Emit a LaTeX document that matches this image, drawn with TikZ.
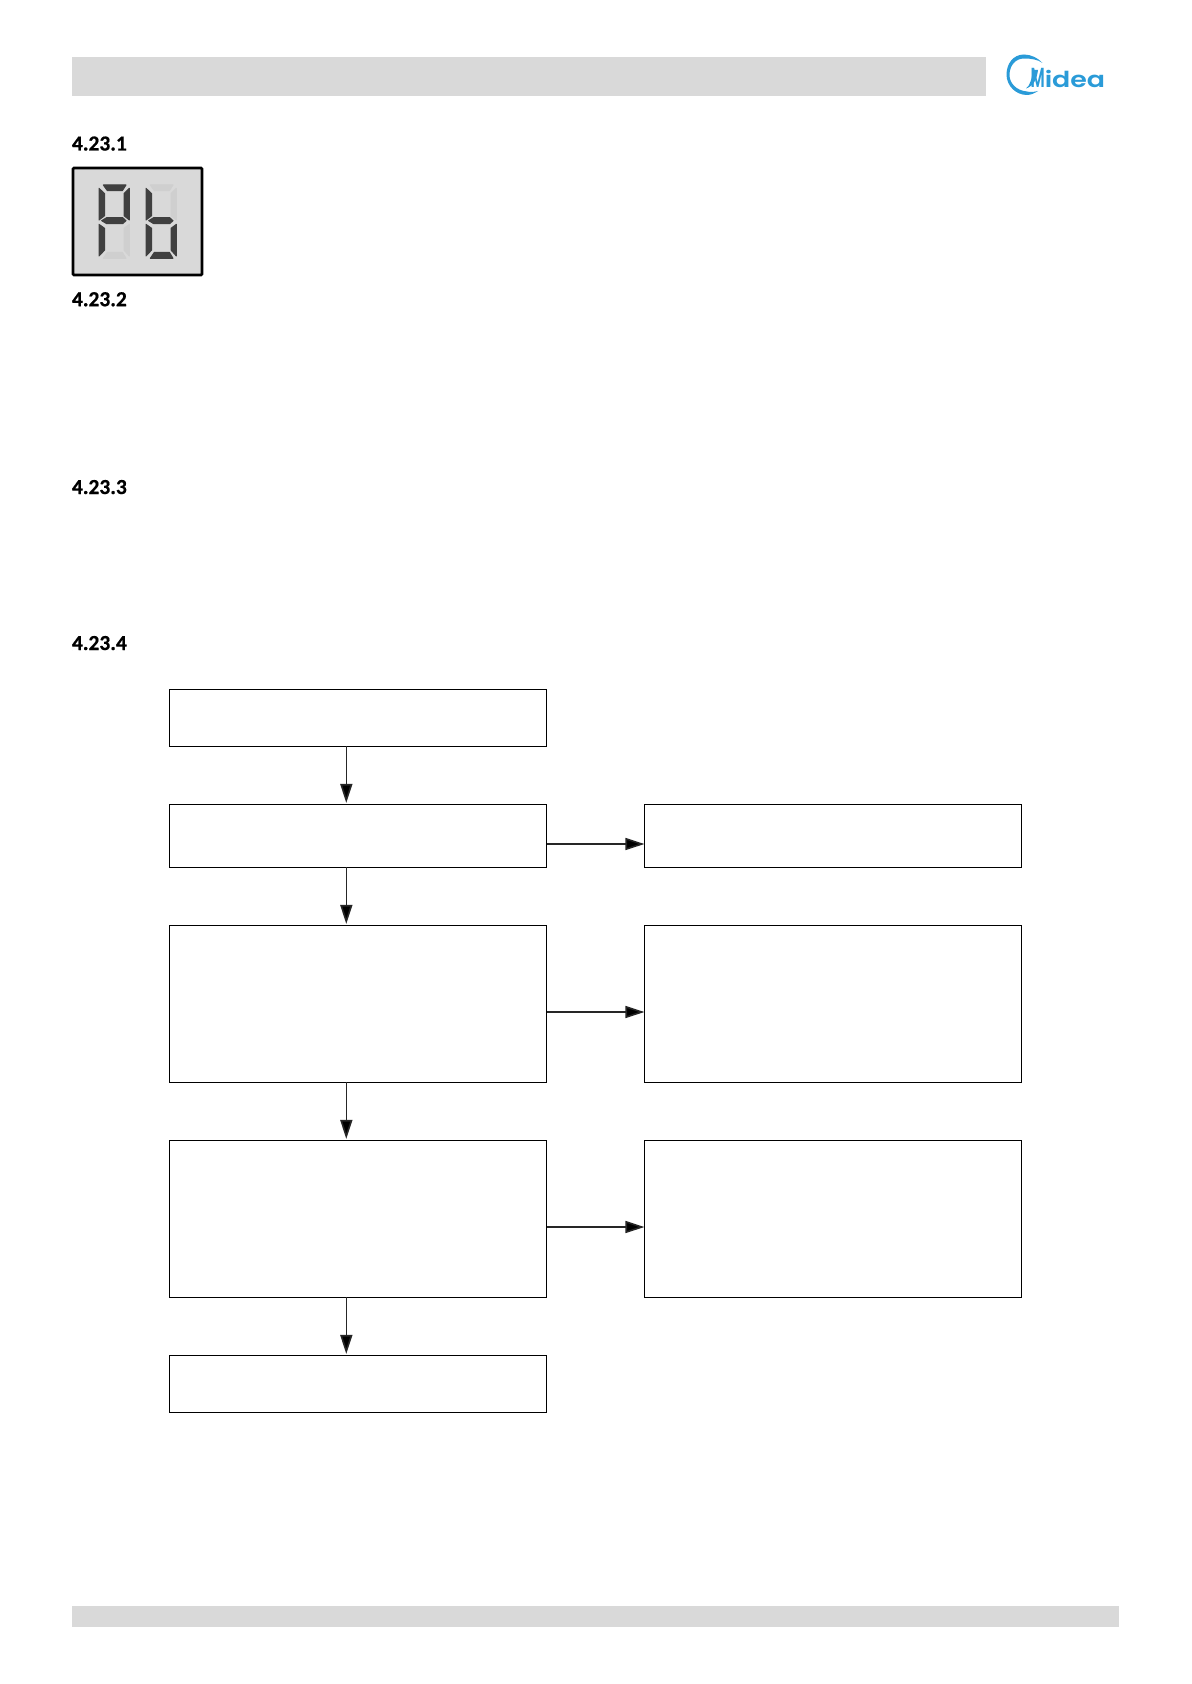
\documentclass[tikz,border=0pt]{standalone}
\usepackage{fontspec}
\usepackage{graphicx}
\setmainfont{Carlito}[BoldFeatures={FakeBold=0.6}]
\newfontfamily\logofont{Poppins}[UprightFont=* SemiBold]
\usetikzlibrary{arrows.meta}
\definecolor{bargrey}{HTML}{D9D9D9}
\definecolor{segon}{HTML}{404040}
\definecolor{segoff}{HTML}{CFCFCF}
\definecolor{midblue}{HTML}{2A9BD8}
\tikzset{
  flowbox/.style={draw=black,line width=0.55pt,fill=white,rectangle,inner sep=0pt,outer sep=0pt,minimum width=188.7pt},
  heading/.style={anchor=base west,inner sep=0pt,outer sep=0pt,font=\fontsize{10.7pt}{12pt}\selectfont\bfseries},
  flowarrow/.style={draw=black!85,line width=0.8pt,-{Triangle[length=9.5pt,width=6pt,fill=black]},shorten >=0.7pt},
  bar/.style={fill=bargrey,draw=none},
  seg/.style={fill=#1,draw=#1,line width=0.5pt,line join=round},
}
\newcommand{\digitsegs}[7]{%
  \path[seg=#1] (40,30)--(108,30)--(97,47)--(52,47)--cycle;
  \path[seg=#2] (27,40)--(44,56)--(44,122)--(27,135)--cycle;
  \path[seg=#3] (118,40)--(102,56)--(102,122)--(118,135)--cycle;
  \path[seg=#4] (35,137)--(50,128)--(98,128)--(108,137)--(98,146)--(50,146)--cycle;
  \path[seg=#5] (27,148)--(44,160)--(44,225)--(27,243)--cycle;
  \path[seg=#6] (118,148)--(102,160)--(102,225)--(118,243)--cycle;
  \path[seg=#7] (40,250)--(52,232)--(97,232)--(108,250)--cycle;
}
\begin{document}
\begin{tikzpicture}[x=0.5pt,y=-0.5pt]
\useasboundingbox (0,0) rectangle (1191,1684);
\fill[white] (0,0) rectangle (1191,1684);
% bars
\fill[bar] (72,57.3) rectangle (986,95.7);
\fill[bar] (72,1606) rectangle (1119,1627);
% logo
\fill[midblue] (1042.5,63) .. controls (1038,58) and (1031,54.5) .. (1024,54.5)
  .. controls (1013,54.5) and (1006.5,64) .. (1006.5,74.5)
  .. controls (1006.5,86) and (1016,95) .. (1027,95)
  .. controls (1031,95) and (1035,93) .. (1038,91)
  .. controls (1034,92) and (1030,92.5) .. (1027,91.5)
  .. controls (1016,90.5) and (1009.5,83) .. (1009.5,75)
  .. controls (1009.5,65) and (1016,58.5) .. (1024,58.5)
  .. controls (1031,58.5) and (1038,59.5) .. (1042.5,63) -- cycle;
\fill[midblue] (1026,88.5) .. controls (1030,86) and (1032,78) .. (1033,70)
  -- (1038,70) .. controls (1037,78) and (1034,86) .. (1026,88.5) -- cycle;
\node[anchor=base west,inner sep=0pt,outer sep=0pt,text=midblue,font=\logofont\fontsize{11pt}{12pt}\selectfont] (logo) at (1030.5,88)
  {\scalebox{0.72}[1.25]{M}\scalebox{1.22}[1]{idea}};
% headings
\node[heading] (h1) at (72,150.5) {4.23.1};
\node[heading] (h2) at (72,306.2) {4.23.2};
\node[heading] (h3) at (72,494) {4.23.3};
\node[heading] (h4) at (72,650) {4.23.4};
% display
\draw[black,line width=1.3pt,fill=bargrey,rounded corners=0.5pt] (73,168) rectangle (202,275);
\begin{scope}[shift={(90,175)},x=0.1667pt,y=-0.1667pt]
  \digitsegs{segon}{segon}{segon}{segon}{segon}{segoff}{segoff}
  \begin{scope}[shift={(141,0)}]
    \digitsegs{segoff}{segon}{segoff}{segon}{segon}{segon}{segon}
  \end{scope}
\end{scope}
% flowchart
\node[flowbox,minimum height=28.5pt] (b1) at (358,717.8) {};
\node[flowbox,minimum height=31.5pt] (b2) at (358,835.8) {};
\node[flowbox,minimum height=78.5pt] (b3) at (358,1003.8) {};
\node[flowbox,minimum height=78.5pt] (b4) at (358,1218.8) {};
\node[flowbox,minimum height=28.5pt] (b5) at (358,1383.8) {};
\node[flowbox,minimum height=31.5pt] (r2) at (833.1,835.8) {};
\node[flowbox,minimum height=78.5pt] (r3) at (833.1,1003.8) {};
\node[flowbox,minimum height=78.5pt] (r4) at (833.1,1218.8) {};
\coordinate (axis) at (346.3,0);
\draw[flowarrow] (b1.south -| axis) -- (b2.north -| axis);
\draw[flowarrow] (b2.south -| axis) -- (b3.north -| axis);
\draw[flowarrow] (b3.south -| axis) -- (b4.north -| axis);
\draw[flowarrow] (b4.south -| axis) -- (b5.north -| axis);
\draw[flowarrow,shorten >=0pt] ([yshift=-4.1pt]b2.east) -- ([yshift=-4.1pt]r2.west);
\draw[flowarrow,shorten >=0pt] ([yshift=-4.1pt]b3.east) -- ([yshift=-4.1pt]r3.west);
\draw[flowarrow,shorten >=0pt] ([yshift=-4.1pt]b4.east) -- ([yshift=-4.1pt]r4.west);
\end{tikzpicture}
\end{document}
